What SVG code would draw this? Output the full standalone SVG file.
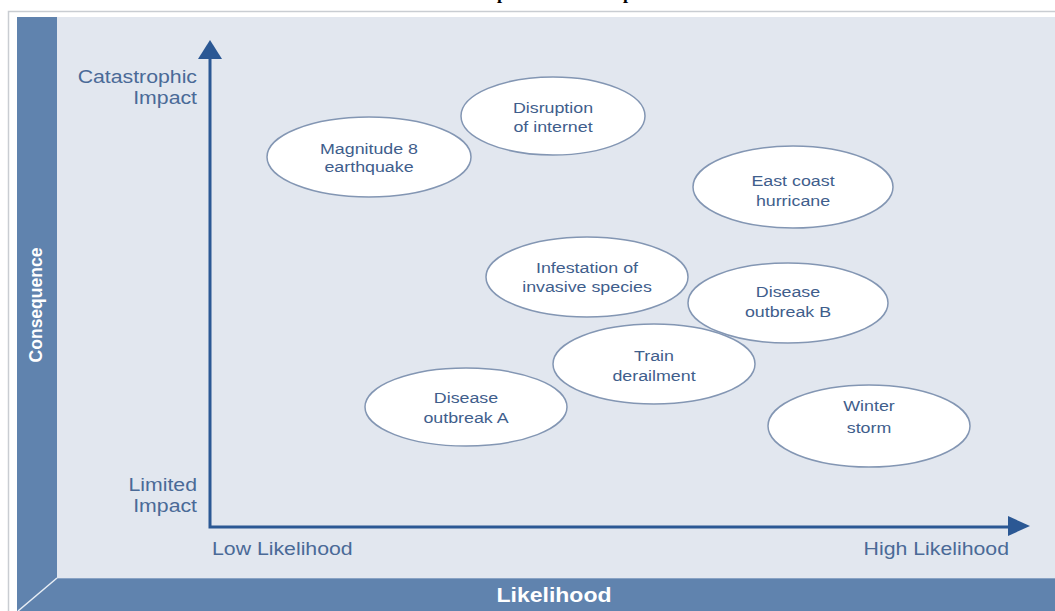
<svg xmlns="http://www.w3.org/2000/svg" width="1055" height="611" viewBox="0 0 1055 611">
<defs>
<style>
.bar{fill:#6083ae}
.ax{fill:none;stroke:#2b5894;stroke-width:3}
.ah{fill:#2b5894}
.lbl{font-family:"Liberation Sans",Arial,sans-serif;font-size:18.5px;fill:#4a6a97}
.el{fill:#ffffff;stroke:#8396b3;stroke-width:1.5}
.et{font-family:"Liberation Sans",Arial,sans-serif;font-size:15.5px;fill:#3f5e8c;text-anchor:middle}
.bt{font-family:"Liberation Sans",Arial,sans-serif;font-weight:bold;fill:#ffffff;text-anchor:middle}
.ttl{font-family:"Liberation Serif","Times New Roman",serif;font-weight:bold;font-size:18px;fill:#000}
</style>
</defs>
<rect x="0" y="0" width="1055" height="611" fill="#ffffff"/>
<text class="ttl" x="497" y="-1">p</text>
<text class="ttl" x="623" y="-1">p</text>
<g id="frame">
<rect x="8.5" y="11.5" width="1060" height="620" fill="#ffffff" stroke="#c9cdd2" stroke-width="1.5"/>
<rect x="17" y="17" width="1045" height="600" fill="#e2e7ef"/>
<rect class="bar" x="17" y="17" width="40" height="600"/>
<rect class="bar" x="17" y="578" width="1045" height="40"/>
<line x1="57" y1="578.5" x2="1055" y2="578.5" stroke="#89a3c4" stroke-width="1"/>
<line x1="57" y1="578" x2="18" y2="611" stroke="#e8eef5" stroke-width="1.5"/>
<text class="bt" font-size="17.5" transform="translate(42,305) rotate(-90)">Consequence</text>
<text class="bt" font-size="20" transform="translate(554,602) scale(1.15,1)">Likelihood</text>
</g>
<g id="axes">
<polyline class="ax" points="210,56 210,527 1012,527"/>
<polygon class="ah" points="210,40 222,59 198,59"/>
<polygon class="ah" points="1030,526 1008,516 1008,536"/>
</g>
<g id="axis-labels">
<text class="lbl" text-anchor="end" transform="translate(197,83) scale(1.15,1)">Catastrophic</text>
<text class="lbl" text-anchor="end" transform="translate(197,104) scale(1.15,1)">Impact</text>
<text class="lbl" text-anchor="end" transform="translate(197,491) scale(1.15,1)">Limited</text>
<text class="lbl" text-anchor="end" transform="translate(197,512) scale(1.15,1)">Impact</text>
<text class="lbl" transform="translate(212,555) scale(1.15,1)">Low Likelihood</text>
<text class="lbl" text-anchor="end" transform="translate(1009,555) scale(1.15,1)">High Likelihood</text>
</g>
<g id="magnitude-8-earthquake">
<ellipse class="el" cx="369" cy="157" rx="102" ry="40"/>
<text class="et" transform="translate(369,154) scale(1.15,1)">Magnitude 8</text>
<text class="et" transform="translate(369,172) scale(1.15,1)">earthquake</text>
</g>
<g id="disruption-of-internet">
<ellipse class="el" cx="553" cy="116" rx="92" ry="39"/>
<text class="et" transform="translate(553,113) scale(1.15,1)">Disruption</text>
<text class="et" transform="translate(553,132) scale(1.15,1)">of internet</text>
</g>
<g id="east-coast-hurricane">
<ellipse class="el" cx="793" cy="187" rx="100" ry="41"/>
<text class="et" transform="translate(793,186) scale(1.15,1)">East coast</text>
<text class="et" transform="translate(793,206) scale(1.15,1)">hurricane</text>
</g>
<g id="infestation-of-invasive-species">
<ellipse class="el" cx="587" cy="277" rx="101" ry="40"/>
<text class="et" transform="translate(587,273) scale(1.15,1)">Infestation of</text>
<text class="et" transform="translate(587,292) scale(1.15,1)">invasive species</text>
</g>
<g id="disease-outbreak-b">
<ellipse class="el" cx="788" cy="303" rx="100" ry="40"/>
<text class="et" transform="translate(788,297) scale(1.15,1)">Disease</text>
<text class="et" transform="translate(788,317) scale(1.15,1)">outbreak B</text>
</g>
<g id="train-derailment">
<ellipse class="el" cx="654" cy="364" rx="101" ry="40"/>
<text class="et" transform="translate(654,361) scale(1.15,1)">Train</text>
<text class="et" transform="translate(654,381) scale(1.15,1)">derailment</text>
</g>
<g id="disease-outbreak-a">
<ellipse class="el" cx="466" cy="407" rx="101" ry="39"/>
<text class="et" transform="translate(466,403) scale(1.15,1)">Disease</text>
<text class="et" transform="translate(466,423) scale(1.15,1)">outbreak A</text>
</g>
<g id="winter-storm">
<ellipse class="el" cx="869" cy="426" rx="101" ry="41"/>
<text class="et" transform="translate(869,411) scale(1.15,1)">Winter</text>
<text class="et" transform="translate(869,433) scale(1.15,1)">storm</text>
</g>
</svg>
